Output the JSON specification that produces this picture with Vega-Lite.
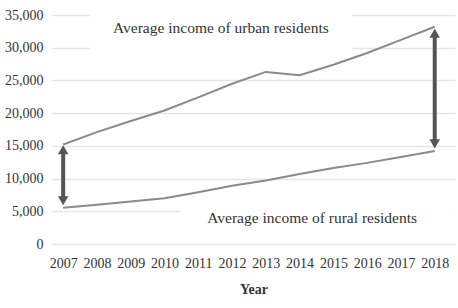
{
  "$schema": "https://vega.github.io/schema/vega-lite/v6.json",
  "width": 403,
  "height": 229,
  "autosize": "none",
  "padding": {"left": 52, "top": 15, "right": 3, "bottom": 64},
  "background": "white",
  "config": {
    "font": "Liberation Serif",
    "view": {"stroke": null},
    "axis": {"labelColor": "#333333", "titleColor": "#333333"}
  },
  "datasets": {
    "income": [
      {"series": "urban", "year": 2007, "income": 15200},
      {"series": "urban", "year": 2008, "income": 17100},
      {"series": "urban", "year": 2009, "income": 18800},
      {"series": "urban", "year": 2010, "income": 20400},
      {"series": "urban", "year": 2011, "income": 22400},
      {"series": "urban", "year": 2012, "income": 24500},
      {"series": "urban", "year": 2013, "income": 26300},
      {"series": "urban", "year": 2014, "income": 25800},
      {"series": "urban", "year": 2015, "income": 27400},
      {"series": "urban", "year": 2016, "income": 29200},
      {"series": "urban", "year": 2017, "income": 31200},
      {"series": "urban", "year": 2018, "income": 33200},
      {"series": "rural", "year": 2007, "income": 5550},
      {"series": "rural", "year": 2008, "income": 6000},
      {"series": "rural", "year": 2009, "income": 6500},
      {"series": "rural", "year": 2010, "income": 7000},
      {"series": "rural", "year": 2011, "income": 7900},
      {"series": "rural", "year": 2012, "income": 8900},
      {"series": "rural", "year": 2013, "income": 9700},
      {"series": "rural", "year": 2014, "income": 10700},
      {"series": "rural", "year": 2015, "income": 11600},
      {"series": "rural", "year": 2016, "income": 12400},
      {"series": "rural", "year": 2017, "income": 13300},
      {"series": "rural", "year": 2018, "income": 14200}
    ],
    "gaps": [
      {"year": 2007, "income": 14400, "end": "top"},
      {"year": 2007, "income": 6600, "end": "bottom"},
      {"year": 2018, "income": 32200, "end": "top"},
      {"year": 2018, "income": 15300, "end": "bottom"}
    ],
    "boxes": [
      {"year": 2007.8, "year2": 2015.55, "income": 28300, "income2": 35300},
      {"year": 2010.46, "year2": 2018.6, "income": 1200, "income2": 6300}
    ],
    "notes": [
      {"year": 2011.67, "income": 33000, "label": "Average income of urban residents"},
      {"year": 2014.37, "income": 4000, "label": "Average income of rural residents"}
    ]
  },
  "encoding": {
    "x": {"field": "year", "type": "quantitative",
      "scale": {"domain": [2006.67, 2018.6], "nice": false, "zero": false},
      "axis": {
        "values": [2007, 2008, 2009, 2010, 2011, 2012, 2013, 2014, 2015, 2016, 2017, 2018],
        "format": "d", "ticks": false, "domain": false, "grid": false,
        "labelFontSize": 14, "labelPadding": 12, "labelFlush": false, "labelOverlap": false,
        "title": "Year", "titleFontSize": 14, "titleFontWeight": "bold", "titlePadding": 12
      }},
    "y": {"field": "income", "type": "quantitative",
      "scale": {"domain": [0, 35000], "nice": false},
      "axis": {
        "values": [0, 5000, 10000, 15000, 20000, 25000, 30000, 35000],
        "format": ",d", "ticks": false, "domain": false, "grid": true,
        "gridColor": "#e6e6e6", "gridWidth": 1.5, "labelOverlap": false,
        "labelFontSize": 14, "labelPadding": 9, "title": null
      }}
  },
  "layer": [
    {
      "data": {"name": "boxes"},
      "mark": {"type": "rect", "fill": "white"},
      "encoding": {
        "x2": {"field": "year2"},
        "y2": {"field": "income2"}
      }
    },
    {
      "data": {"name": "income"},
      "mark": {"type": "line", "color": "#8a8a8a", "strokeWidth": 2},
      "encoding": {
        "detail": {"field": "series"}
      }
    },
    {
      "data": {"name": "gaps"},
      "mark": {"type": "line", "color": "#555555", "strokeWidth": 4, "strokeCap": "butt"},
      "encoding": {
        "detail": {"field": "year"}
      }
    },
    {
      "data": {"name": "gaps"},
      "mark": {"type": "point", "filled": true, "size": 110, "color": "#555555", "opacity": 1},
      "encoding": {
        "shape": {"field": "end", "type": "nominal",
          "scale": {"domain": ["top", "bottom"], "range": ["triangle-up", "triangle-down"]},
          "legend": null}
      }
    },
    {
      "data": {"name": "notes"},
      "mark": {"type": "text", "fontSize": 15.5, "color": "#333333", "align": "center", "baseline": "middle"},
      "encoding": {
        "text": {"field": "label"}
      }
    }
  ]
}
